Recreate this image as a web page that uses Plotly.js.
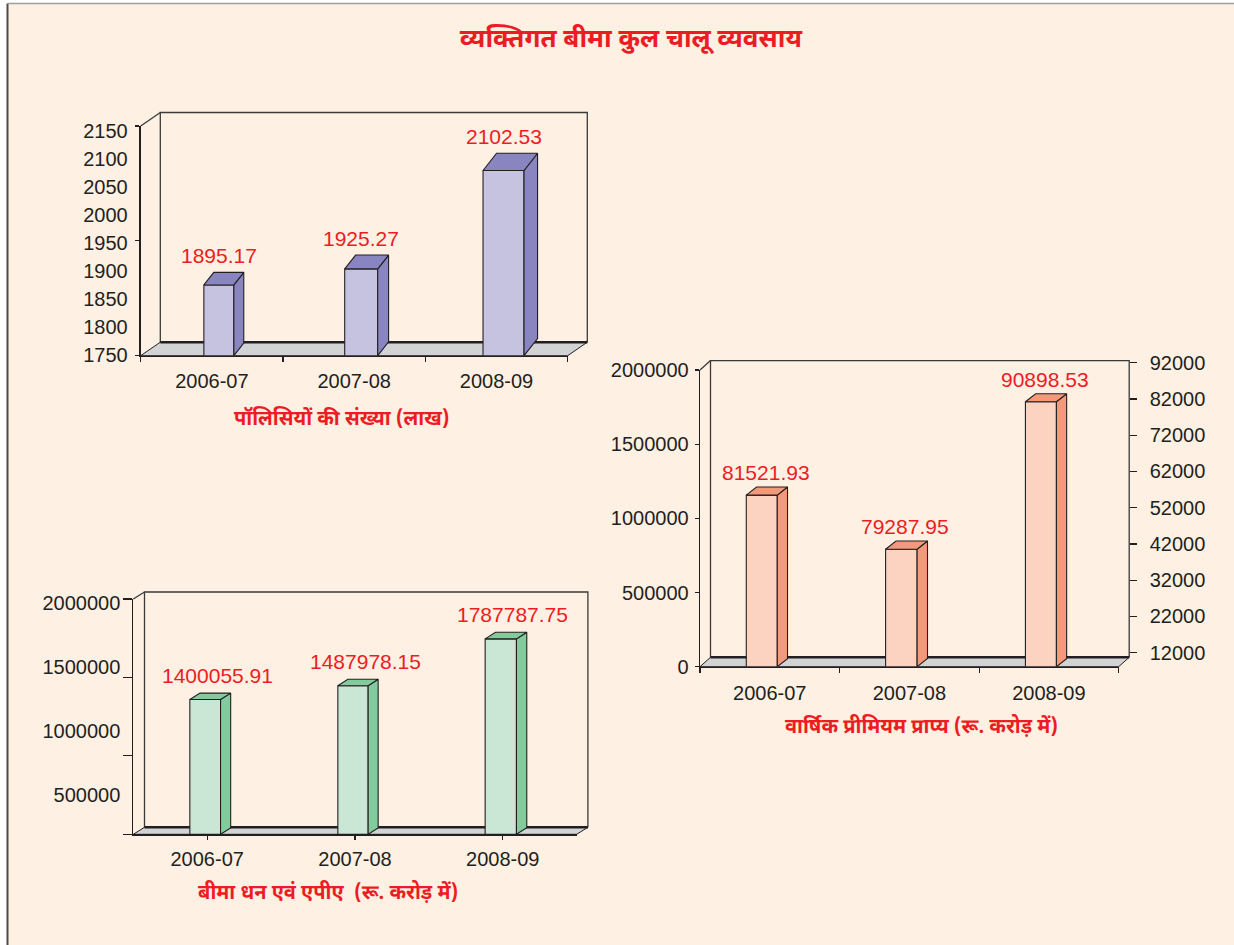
<!DOCTYPE html>
<html>
<head>
<meta charset="utf-8">
<script src="https://cdn.plot.ly/plotly-3.0.1.min.js"></script>
<style>
html, body { margin: 0; padding: 0; background: #ffffff; }
#chart { width: 1234px; height: 945px; }
</style>
</head>
<body>
<div id="chart"></div>
<script>
// ---------------- data ----------------
const years = ['2006-07', '2007-08', '2008-09'];
const policies = [1895.17, 1925.27, 2102.53];                 // number of policies (lakh)
const premiumReceivable = [81521.93, 79287.95, 90898.53];      // annual premium receivable (Rs crore) - labels
const premiumBarHeights = [1211000, 847000, 1840000];         // bar heights as drawn, read on the left axis
const sumAssured = [1400055.91, 1487978.15, 1787787.75];      // sum assured & APE (Rs crore)

const mainTitle = 'व्यक्तिगत बीमा कुल चालू व्यवसाय';
const policyTitle = 'पॉलिसियों की संख्या (लाख)';
const premiumTitle = 'वार्षिक प्रीमियम प्राप्य (रू. करोड़ में)';
const sumTitle = 'बीमा धन एवं एपीए  (रू. करोड़ में)';

// ---------------- style / layout constants ----------------
const W = 1234, H = 945;
const px = v => v / W;
const py = v => 1 - v / H;
const FONT = 'Liberation Sans, Arial, Helvetica, sans-serif';
const HFONT = 'Noto Sans Devanagari, Noto Sans, Lohit Devanagari, FreeSans, sans-serif';
const INK = '#231F20';
const RED = '#ED1C24';
const BG = '#FEF0E2';
const FLOOR = '#D1D3D4';

const panels = [
  { xa: 'x', ya: 'y', box: { l: 140.7, r: 567.7, b: 355.7, t: 126 }, depth: { dx: 19.6, dy: 13.5 },
    yRange: [1750, 2150], values: policies, labels: policies.map(v => v.toFixed(2)),
    front: '#C6C3E1', side: '#8985C0', barW: [30, 33, 41], kx: 0.33, ky: 0.42, shift: 7, lblDx: 0, lblDy: 17 },
  { xa: 'x2', ya: 'y2', box: { l: 700, r: 1118.7, b: 666.7, t: 370 }, depth: { dx: 10.5, dy: 9.4 },
    yRange: [0, 2000000], values: premiumBarHeights, labels: premiumReceivable.map(v => v.toFixed(2)),
    front: '#FCD3C0', side: '#F4997A', barW: [31, 31.5, 31], kx: 0.33, ky: 0.26, shift: -8, lblDx: 4, lblDy: 14.5 },
  { xa: 'x3', ya: 'y3', box: { l: 133.3, r: 576.7, b: 834.3, t: 599 }, depth: { dx: 11.2, dy: 7 },
    yRange: [500000, 2000000], values: sumAssured, labels: sumAssured.map(v => v.toFixed(2)),
    front: '#CAE6D5', side: '#83CB9D', barW: [30.7, 30.3, 31.3], kx: 0.33, ky: 0.21, shift: -2, lblDx: 12, lblDy: 17.5 }
];

const traces = [];
const shapes = [];
const annotations = [];

// page background with frame lines
shapes.push({ type: 'rect', xref: 'paper', yref: 'paper', layer: 'below',
  x0: px(8), x1: 1, y0: 0, y1: py(4), fillcolor: BG, line: { width: 0 } });
shapes.push({ type: 'line', xref: 'paper', yref: 'paper', layer: 'below',
  x0: px(7.5), x1: px(7.5), y0: 0, y1: py(3.5), line: { color: '#4A4A4A', width: 2 } });
shapes.push({ type: 'line', xref: 'paper', yref: 'paper', layer: 'below',
  x0: px(7.5), x1: 1, y0: py(3.5), y1: py(3.5), line: { color: '#9E9E9E', width: 1.5 } });

const P = (x, y) => px(x) + ',' + py(y);

panels.forEach(p => {
  const nCat = years.length;
  const pxPerCat = (p.box.r - p.box.l) / nCat;
  const pxPerUnit = (p.box.b - p.box.t) / (p.yRange[1] - p.yRange[0]);
  const base = p.yRange[0];
  const xs = [], lens = [], widths = [];
  const sideX = [], sideY = [], topX = [], topY = [];
  p.values.forEach((v, i) => {
    const cx = i + p.shift / pxPerCat;
    const w = p.barW[i] / pxPerCat;
    const dx = p.kx * p.barW[i] / pxPerCat;
    const dy = p.ky * p.barW[i] / pxPerUnit;
    const ft = v - dy;
    xs.push(cx); lens.push(ft - base); widths.push(w);
    const L = cx - w / 2, R = cx + w / 2;
    sideX.push(R, R, R + dx, R + dx, R, null);
    sideY.push(base, ft, v, base + dy, base, null);
    topX.push(L, R, R + dx, L + dx, L, null);
    topY.push(ft, ft, v, v, ft, null);
    annotations.push({ xref: p.xa, yref: p.ya, x: cx, y: v, text: p.labels[i], showarrow: false,
      xshift: p.lblDx, yshift: p.lblDy, xanchor: 'center', yanchor: 'middle',
      font: { family: FONT, size: 21, color: RED } });
  });
  traces.push({ type: 'bar', xaxis: p.xa, yaxis: p.ya, x: xs, y: lens, base: base, width: widths,
    marker: { color: p.front, line: { color: INK, width: 1.1 } }, hoverinfo: 'skip', showlegend: false });
  traces.push({ type: 'scatter', mode: 'lines', xaxis: p.xa, yaxis: p.ya, x: sideX, y: sideY,
    fill: 'toself', fillcolor: p.side, line: { color: INK, width: 1.1 }, hoverinfo: 'skip', showlegend: false });
  traces.push({ type: 'scatter', mode: 'lines', xaxis: p.xa, yaxis: p.ya, x: topX, y: topY,
    fill: 'toself', fillcolor: p.side, line: { color: INK, width: 1.1 }, hoverinfo: 'skip', showlegend: false });

  const { l, r, b, t } = p.box;
  const { dx, dy } = p.depth;
  // floor
  shapes.push({ type: 'path', xref: 'paper', yref: 'paper', layer: 'below',
    path: 'M' + P(l, b) + 'L' + P(r, b) + 'L' + P(r + dx, b - dy) + 'L' + P(l + dx, b - dy) + 'Z',
    fillcolor: FLOOR, line: { color: INK, width: 1 } });
  // back wall
  shapes.push({ type: 'path', xref: 'paper', yref: 'paper', layer: 'below',
    path: 'M' + P(l + dx, b - dy) + 'L' + P(l + dx, t - dy) + 'L' + P(r + dx, t - dy) + 'L' + P(r + dx, b - dy),
    line: { color: '#3A3A3A', width: 1.3 } });
  // side wall top edge
  shapes.push({ type: 'path', xref: 'paper', yref: 'paper', layer: 'below',
    path: 'M' + P(l, t) + 'L' + P(l + dx, t - dy), line: { color: '#3A3A3A', width: 1.3 } });
  // floor back edge (thick)
  shapes.push({ type: 'path', xref: 'paper', yref: 'paper', layer: 'below',
    path: 'M' + P(l + dx, b - dy) + 'L' + P(r + dx, b - dy), line: { color: INK, width: 2.6 } });
});

// dummy traces so the extra axes get subplots
traces.push({ type: 'scatter', x: [], y: [], xaxis: 'x4', yaxis: 'y4', showlegend: false });
traces.push({ type: 'scatter', x: [], y: [], xaxis: 'x3', yaxis: 'y5', showlegend: false });
traces.push({ type: 'scatter', x: [], y: [], xaxis: 'x', yaxis: 'y6', showlegend: false });

// axis titles
const titleFont = { family: HFONT, size: 20, color: RED, weight: 'bold' };
annotations.push({ xref: 'paper', yref: 'paper', x: px(342), y: py(419), text: policyTitle, showarrow: false, xanchor: 'center', yanchor: 'middle', font: titleFont });
annotations.push({ xref: 'paper', yref: 'paper', x: px(921), y: py(727), text: premiumTitle, showarrow: false, xanchor: 'center', yanchor: 'middle', font: titleFont });
annotations.push({ xref: 'paper', yref: 'paper', x: px(328), y: py(893), text: sumTitle, showarrow: false, xanchor: 'center', yanchor: 'middle', font: titleFont });

// helper: range for an axis whose domain spans [botPx, topPx] and maps vA->pxA, vB->pxB
function rangeFor(botPx, topPx, vA, pxA, vB, pxB) {
  const k = (vB - vA) / (pxA - pxB);
  return [vA - (botPx - pxA) * k, vA + (pxA - topPx) * k];
}

const tickFont = { family: FONT, size: 20, color: INK };
const base = { showgrid: false, zeroline: false, fixedrange: true, tickfont: tickFont, autorange: false,
  tickformat: 'd', separatethousands: false, exponentformat: 'none' };
const catVals = years.map((_, i) => i);
const boundVals = Array.from({ length: years.length + 1 }, (_, i) => i - 0.5);

const layout = {
  width: W, height: H, autosize: false,
  margin: { l: 0, r: 0, t: 0, b: 0, pad: 0 },
  paper_bgcolor: '#ffffff', plot_bgcolor: 'rgba(0,0,0,0)',
  showlegend: false, bargap: 0,
  title: { text: mainTitle, x: px(631), xanchor: 'center', y: py(38), yanchor: 'middle',
    font: { family: HFONT, size: 26, color: RED, weight: 'bold' } },
  // chart 1
  xaxis: Object.assign({}, base, { domain: [px(140.7), px(567.7)], range: [-0.5, 2.5], anchor: 'y',
    tickmode: 'array', tickvals: catVals, ticktext: years, ticks: '', showline: true, linecolor: INK, linewidth: 1.3,
    ticklabelstandoff: 7,
    minor: { tickmode: 'array', tickvals: boundVals, ticks: 'outside', ticklen: 5, tickcolor: INK, tickwidth: 1.2 } }),
  yaxis: Object.assign({}, base, { domain: [py(355.7), py(126)], range: [1750, 2150], anchor: 'x',
    tickmode: 'linear', tick0: 1750, dtick: 200, ticks: 'outside', ticklen: 4, tickcolor: INK, tickwidth: 1.2,
    showticklabels: false, showline: true, linecolor: INK, linewidth: 1.3 }),
  yaxis6: Object.assign({}, base, { overlaying: 'y', anchor: 'x', side: 'left',
    range: rangeFor(355.7, 126, 1750, 355, 2150, 131),
    tickmode: 'linear', tick0: 1750, dtick: 50, ticks: '', showline: false, ticklabelstandoff: 12 }),
  // chart 2
  xaxis2: Object.assign({}, base, { domain: [px(700), px(1118.7)], range: [-0.5, 2.5], anchor: 'y2',
    tickmode: 'array', tickvals: catVals, ticktext: years, ticks: '', showline: true, linecolor: INK, linewidth: 1.3,
    ticklabelstandoff: 8,
    minor: { tickmode: 'array', tickvals: boundVals, ticks: 'outside', ticklen: 5, tickcolor: INK, tickwidth: 1.2 } }),
  yaxis2: Object.assign({}, base, { domain: [py(666.7), py(370)], range: [0, 2000000], anchor: 'x2',
    tickmode: 'linear', tick0: 0, dtick: 500000, ticks: 'outside', ticklen: 4, tickcolor: INK, tickwidth: 1.2,
    showline: true, linecolor: INK, linewidth: 1.3, ticklabelstandoff: 2 }),
  xaxis4: Object.assign({}, base, { domain: [px(1121), px(1129.2)], range: [0, 1], anchor: 'y4', visible: false }),
  yaxis4: Object.assign({}, base, { domain: [py(666.7), py(355)], anchor: 'x4', side: 'right',
    range: rangeFor(666.7, 355, 12000, 652.7, 92000, 362.7),
    tickmode: 'linear', tick0: 12000, dtick: 10000, ticks: 'outside', ticklen: 6.5, tickcolor: INK, tickwidth: 1.2,
    showline: false, ticklabelstandoff: 9 }),
  // chart 3
  xaxis3: Object.assign({}, base, { domain: [px(133.3), px(576.7)], range: [-0.5, 2.5], anchor: 'y3',
    tickmode: 'array', tickvals: catVals, ticktext: years, ticks: 'outside', ticklen: 4, tickcolor: INK, tickwidth: 1.2,
    showline: true, linecolor: INK, linewidth: 1.3, ticklabelstandoff: 2 }),
  yaxis3: Object.assign({}, base, { domain: [py(834.3), py(599)], range: [500000, 2000000], anchor: 'x3',
    tickmode: 'linear', tick0: 0, dtick: 500000, ticks: 'outside', ticklen: 9, tickcolor: INK, tickwidth: 1.2,
    showticklabels: false, showline: true, linecolor: INK, linewidth: 1.3 }),
  yaxis5: Object.assign({}, base, { overlaying: 'y3', anchor: 'x3', side: 'left',
    range: rangeFor(834.3, 599, 500000, 795, 2000000, 603.3),
    tickmode: 'linear', tick0: 0, dtick: 500000, ticks: '', showline: false, ticklabelstandoff: 12 }),
  shapes: shapes,
  annotations: annotations
};

Plotly.newPlot('chart', traces, layout, { displayModeBar: false, staticPlot: true });
</script>
</body>
</html>
